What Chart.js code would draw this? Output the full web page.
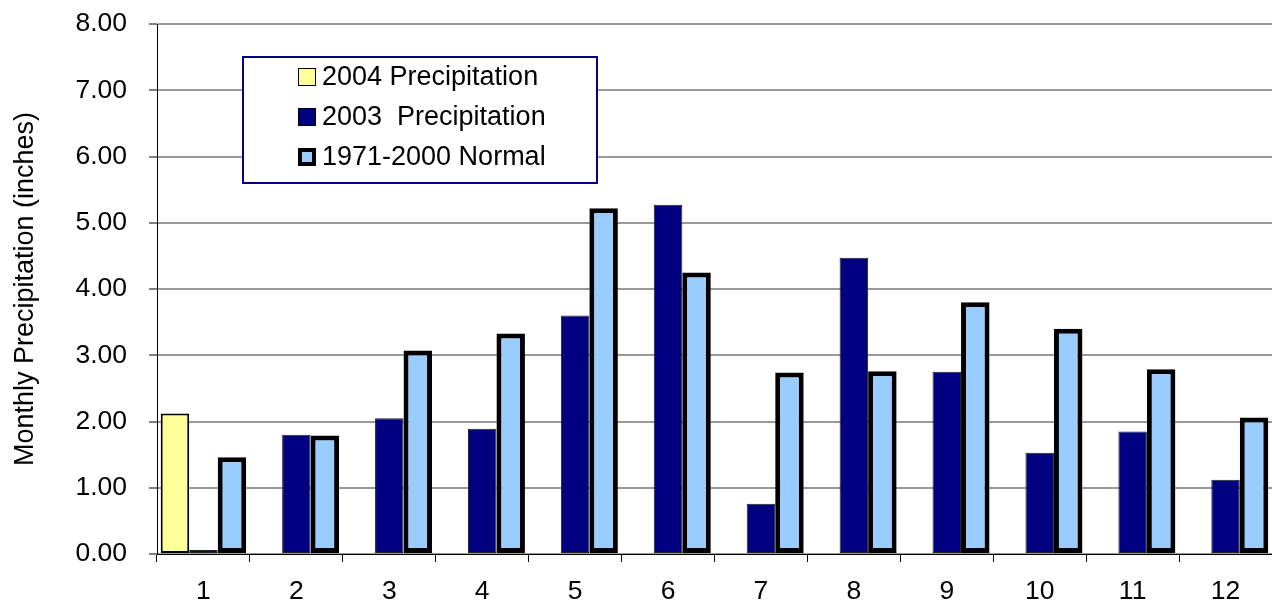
<!DOCTYPE html>
<html>
<head>
<meta charset="utf-8">
<script src="https://cdn.jsdelivr.net/npm/chart.js@4.4.1/dist/chart.umd.min.js"></script>
<style>
  html, body { margin: 0; padding: 0; background: #fff; }
  #wrap { width: 1272px; height: 604px; }
</style>
</head>
<body>
<div id="wrap"><canvas id="precipChart" width="1272" height="604"></canvas></div>
<script>
// months on the x axis
const months = ['1', '2', '3', '4', '5', '6', '7', '8', '9', '10', '11', '12'];

// monthly precipitation (inches)
const precip2004 = [2.12, null, null, null, null, null, null, null, null, null, null, null];
const precip2003 = [0.06, 1.80, 2.05, 1.89, 3.60, 5.27, 0.76, 4.47, 2.75, 1.53, 1.85, 1.12];
const normal7100 = [1.46, 1.79, 3.07, 3.33, 5.22, 4.25, 2.74, 2.76, 3.80, 3.40, 2.79, 2.06];

const seriesLabels = ['2004 Precipitation', '2003  Precipitation', '1971-2000 Normal'];

const FONT = 'Arial, "Liberation Sans", sans-serif';

// legend box drawn inside the plot, like the original
const boxLegend = {
    id: 'boxLegend',
    afterDraw(chart) {
        const ctx = chart.ctx;
        const x = 243, y = 57, w = 354, h = 126;
        ctx.save();
        ctx.fillStyle = '#ffffff';
        ctx.fillRect(x, y, w, h);
        ctx.strokeStyle = '#000080';
        ctx.lineWidth = 2;
        ctx.strokeRect(x, y, w, h);

        ctx.font = '27px ' + FONT;
        ctx.textBaseline = 'middle';
        chart.data.datasets.forEach((ds, i) => {
            const cy = 77 + i * 40;
            const sx = 298, sw = 18;
            ctx.fillStyle = ds.backgroundColor;
            ctx.fillRect(sx, cy - sw / 2, sw, sw);
            ctx.strokeStyle = '#000';
            ctx.lineWidth = ds.borderWidth > 2 ? 4 : 1;
            const off = ctx.lineWidth / 2;
            ctx.strokeRect(sx + off, cy - sw / 2 + off, sw - ctx.lineWidth, sw - ctx.lineWidth);
            ctx.fillStyle = '#000';
            ctx.fillText(ds.label, 322, cy + 1);
        });
        ctx.restore();
    }
};

const ctx = document.getElementById('precipChart').getContext('2d');
new Chart(ctx, {
    type: 'bar',
    data: {
        labels: months,
        datasets: [
            {
                label: seriesLabels[0],
                data: precip2004,
                backgroundColor: '#FFFF99',
                borderColor: '#000000',
                borderWidth: 2,
                borderSkipped: false
            },
            {
                label: seriesLabels[1],
                data: precip2003,
                backgroundColor: '#000080',
                borderColor: '#222222',
                borderWidth: 1,
                borderSkipped: false
            },
            {
                label: seriesLabels[2],
                data: normal7100,
                backgroundColor: '#99CCFF',
                borderColor: '#000000',
                borderWidth: 5,
                borderSkipped: false
            }
        ]
    },
    options: {
        responsive: false,
        animation: false,
        devicePixelRatio: 1,
        layout: {
            padding: { top: 24, right: 0, left: 0, bottom: 0 }
        },
        datasets: {
            bar: {
                categoryPercentage: 0.92,
                barPercentage: 1.0
            }
        },
        plugins: {
            legend: { display: false },
            tooltip: { enabled: false }
        },
        scales: {
            x: {
                offset: true,
                grid: {
                    offset: true,
                    drawOnChartArea: false,
                    color: '#000',
                    tickLength: 8
                },
                border: { color: '#000', width: 1 },
                ticks: {
                    color: '#000',
                    font: { family: FONT, size: 26.5 },
                    padding: 14
                },
                afterFit(scale) {
                    scale.height = 50;
                    scale.paddingLeft = 0;
                    scale.paddingRight = 0;
                }
            },
            y: {
                min: 0,
                max: 8,
                ticks: {
                    stepSize: 1,
                    color: '#000',
                    font: { family: FONT, size: 26.5 },
                    padding: 22,
                    callback: v => Number(v).toFixed(2)
                },
                grid: {
                    color: '#999999',
                    lineWidth: 2,
                    tickColor: '#000',
                    tickLength: 8,
                    tickWidth: 1
                },
                border: { color: '#000', width: 1 },
                title: {
                    display: true,
                    text: 'Monthly Precipitation (inches)',
                    color: '#000',
                    font: { family: FONT, size: 27 },
                    padding: { top: 9, bottom: 0 }
                },
                afterFit(scale) {
                    scale.width = 157;
                    scale.paddingTop = 0;
                    scale.paddingBottom = 0;
                }
            }
        }
    },
    plugins: [boxLegend]
});
</script>
</body>
</html>
